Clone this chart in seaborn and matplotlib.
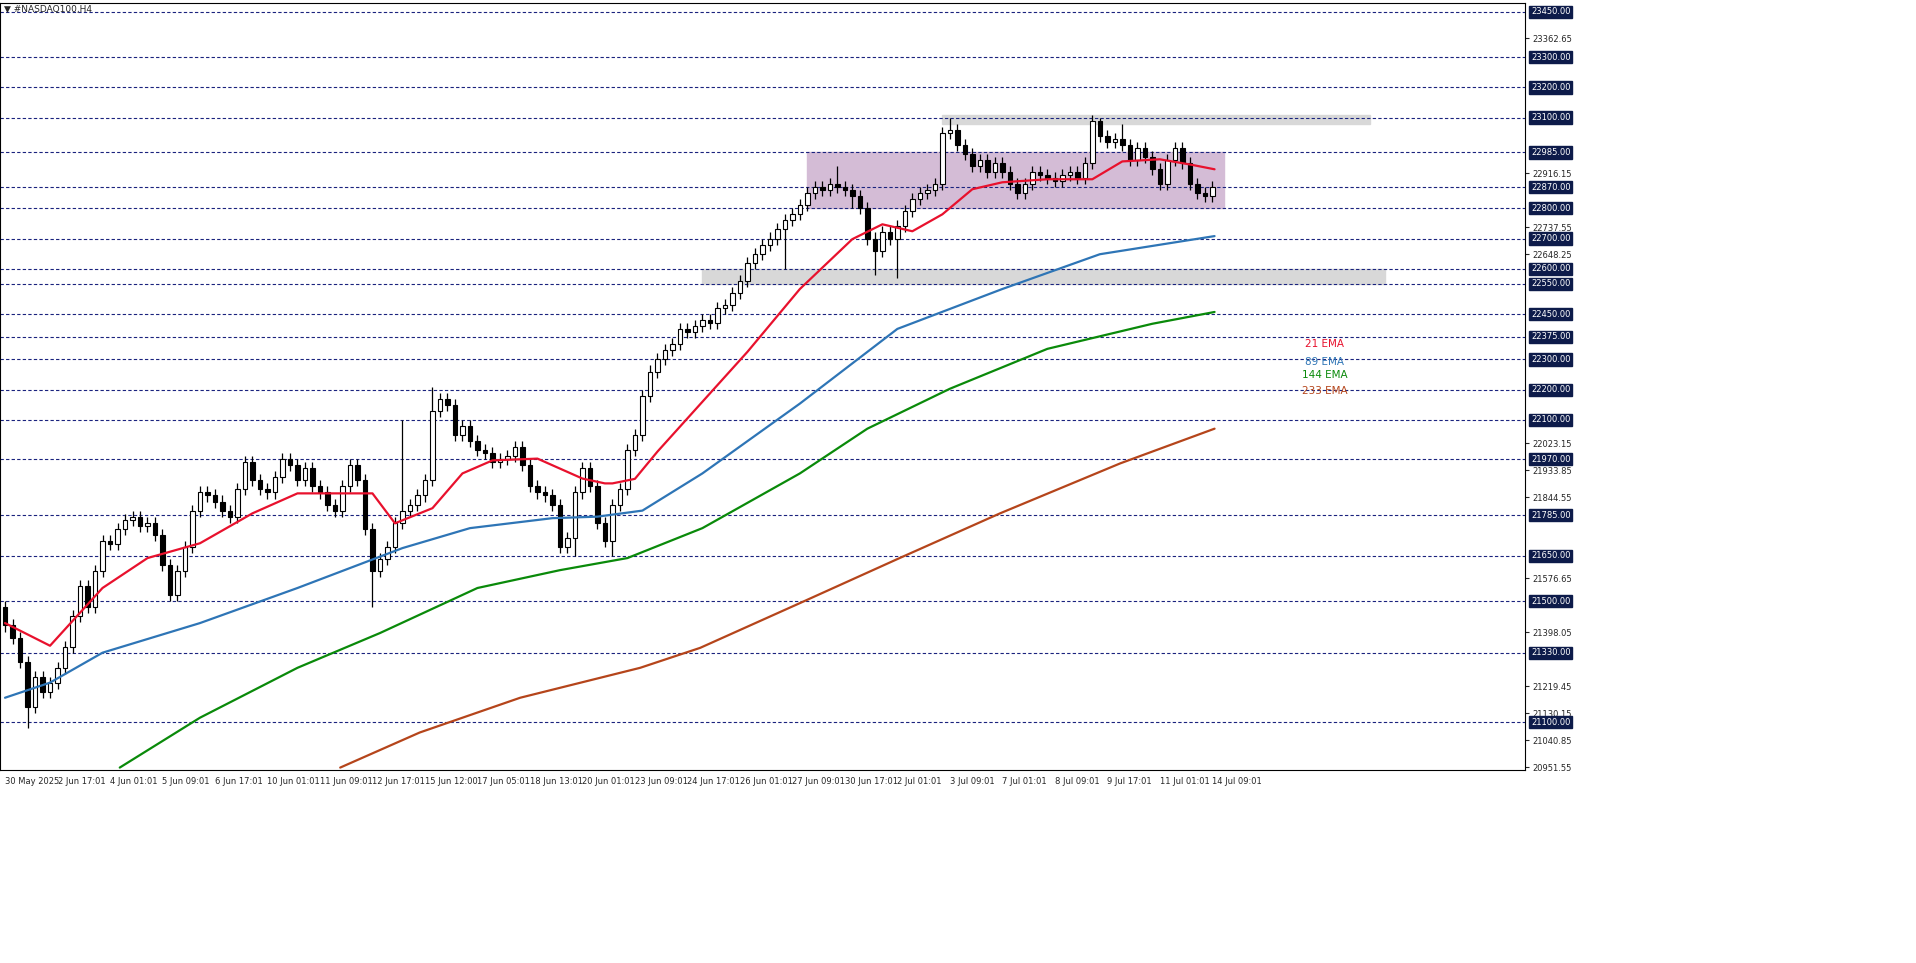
import numpy as np
import pandas as pd
import matplotlib
matplotlib.use("Agg")
import matplotlib.pyplot as plt
import seaborn as sns

# ----------------------------
# Data (H4 closes)
# ----------------------------
closes = [
    21420, 21380, 21300, 21150, 21250, 21200, 21230,
    21280, 21350, 21450, 21550, 21480, 21600, 21700,
    21690, 21740, 21770, 21780, 21750, 21760, 21720,
    21620, 21520, 21600, 21680, 21800, 21860, 21850,
    21830, 21800, 21780, 21870, 21960, 21900, 21870,
    21860, 21910, 21970, 21950, 21900, 21940, 21880,
    21860, 21820, 21800, 21880, 21950, 21900, 21740,
    21600, 21640, 21680, 21760, 21800, 21820, 21850,
    21900, 22130, 22170, 22150, 22050, 22080, 22030,
    22000, 21990, 21960, 21970, 21980, 22010, 21950,
    21880, 21860, 21850, 21820, 21680, 21710, 21860,
    21940, 21880, 21760, 21700, 21820, 21870, 22000,
    22050, 22180, 22260, 22300, 22330, 22350, 22400,
    22390, 22410, 22430, 22420, 22470, 22480, 22520,
    22560, 22620, 22650, 22680, 22700, 22730, 22760,
    22780, 22810, 22850, 22870, 22860, 22880, 22870,
    22860, 22840, 22800, 22700, 22660, 22720, 22700,
    22740, 22790, 22830, 22850, 22860, 22880, 23050,
    23060, 23010, 22980, 22940, 22960, 22920, 22950,
    22920, 22880, 22850, 22880, 22920, 22910, 22900,
    22890, 22910, 22920, 22900, 22950, 23090, 23040,
    23020, 23030, 23010, 22960, 23000, 22970, 22930,
    22880, 22960, 23000, 22950, 22880, 22850, 22840,
    22870,
]
first_open = 21480
long_lows = {3: 21080, 23: 21500, 49: 21480, 76: 21650, 81: 21650,
             104: 22600, 116: 22580, 119: 22570, 113: 22800}
long_highs = {53: 22100, 57: 22210, 111: 22940, 126: 23100, 146: 23100, 149: 23080}

date_labels = ["30 May 2025", "2 Jun 17:01", "4 Jun 01:01", "5 Jun 09:01", "6 Jun 17:01",
               "10 Jun 01:01", "11 Jun 09:01", "12 Jun 17:01", "15 Jun 12:00", "17 Jun 05:01",
               "18 Jun 13:01", "20 Jun 01:01", "23 Jun 09:01", "24 Jun 17:01", "26 Jun 01:01",
               "27 Jun 09:01", "30 Jun 17:01", "2 Jul 01:01", "3 Jul 09:01", "7 Jul 01:01",
               "8 Jul 09:01", "9 Jul 17:01", "11 Jul 01:01", "14 Jul 09:01"]

ema21_x = [0, 6, 13, 19, 26, 33, 39, 45, 49, 52, 57, 61, 65, 71, 77, 80, 81, 84, 87, 93, 99, 106, 113, 117, 121, 125, 129, 133, 139, 145, 149, 154, 158, 161.3]
ema21_y = [21428, 21353, 21544, 21643, 21692, 21791, 21857, 21857, 21857, 21758, 21808, 21923, 21966, 21972, 21906, 21890, 21890, 21905, 21995, 22160, 22325, 22533, 22698, 22747, 22724, 22780, 22863, 22886, 22896, 22896, 22955, 22962, 22945, 22929]
ema89_x = [0, 6, 13, 26, 39, 53, 62, 73, 79, 85, 93, 106, 119, 133, 146, 161.3]
ema89_y = [21181, 21231, 21330, 21428, 21544, 21676, 21742, 21775, 21780, 21800, 21923, 22154, 22401, 22533, 22648, 22708]
ema144_x = [15.3, 26, 39, 50, 63, 74, 83, 93, 106, 115, 126, 139, 153, 161.3]
ema144_y = [20950, 21115, 21280, 21395, 21544, 21603, 21643, 21742, 21923, 22071, 22203, 22335, 22418, 22457]
ema233_x = [44.7, 55.3, 68.7, 84.7, 92.7, 106, 119.3, 132.7, 148.7, 161.3]
ema233_y = [20950, 21066, 21181, 21280, 21346, 21494, 21643, 21791, 21956, 22071]

levels = [23450, 23300, 23200, 23100, 22985, 22870, 22800, 22700, 22600, 22550, 22450,
          22375, 22300, 22200, 22100, 21970, 21785, 21650, 21500, 21330, 21100]

# ----------------------------
# Figure
# ----------------------------
sns.set_style("white")
fig = plt.figure(figsize=(19.16, 9.63), dpi=100)
ax = fig.add_axes([0.0, 1 - 770 / 963, 1525 / 1916, 767 / 963])
ax.set_xlim(-0.67, 202.7)
ax.set_ylim(20942, 23479)

# zones
ax.add_patch(plt.Rectangle((107, 22800), 55.5, 185, color="#d4bcd6", zorder=0))
ax.add_patch(plt.Rectangle((125, 23080), 57, 30, color="#d8d8d8", zorder=0))
ax.add_patch(plt.Rectangle((93, 22550), 91, 50, color="#d8d8d8", zorder=0))

for lv in levels:
    ax.axhline(lv, color="#1a237e", lw=0.8, ls=(0, (3, 2)), zorder=1)

# candles
opens = [first_open] + closes[:-1]
for i, (o, c) in enumerate(zip(opens, closes)):
    hi = long_highs.get(i, max(o, c) + 20)
    lo = long_lows.get(i, min(o, c) - 20)
    ax.vlines(i, lo, hi, color="black", lw=0.9, zorder=3)
    fc = "white" if c >= o else "black"
    ax.bar(i, max(abs(c - o), 3), bottom=min(o, c), width=0.6, color=fc,
           edgecolor="black", linewidth=0.8, zorder=4)

# EMAs
for xs, ys, col in [(ema21_x, ema21_y, "#e8112d"), (ema89_x, ema89_y, "#2e75b6"),
                    (ema144_x, ema144_y, "#0a8a0a"), (ema233_x, ema233_y, "#b5451b")]:
    df = pd.DataFrame({"x": xs, "y": ys})
    sns.lineplot(data=df, x="x", y="y", ax=ax, color=col, lw=1.6, zorder=5)
ax.set_xlabel("")
ax.set_ylabel("")

for lbl, y, col in [("21 EMA", 22350, "#e8112d"), ("89 EMA", 22293, "#2e75b6"),
                    ("144 EMA", 22247, "#0a8a0a"), ("233 EMA", 22197, "#b5451b")]:
    ax.text(176, y, lbl, color=col, fontsize=7.5, ha="center", va="center")

# axes styling
ax.set_xticks(np.arange(len(date_labels)) * 7)
ax.set_xticklabels(date_labels, fontsize=6, ha="left")
ax.tick_params(axis="x", length=3, pad=2)
ax.yaxis.tick_right()
yt = np.linspace(20951.55, 23362.65, 28)
yt = [v for v in yt if min(abs(v - lv) for lv in levels) > 30]
ax.set_yticks(yt)
ax.set_yticklabels([f"{v:.2f}" for v in yt], fontsize=6)
ax.tick_params(axis="y", length=3, pad=2)
for s in ax.spines.values():
    s.set_color("black")
    s.set_linewidth(0.8)

for lv in levels:
    ax.text(1.004, lv, f"{lv:.2f}", transform=ax.get_yaxis_transform(), fontsize=6,
            color="white", va="center", ha="left",
            bbox=dict(boxstyle="square,pad=0.2", fc="#0d1b4a", ec="#0d1b4a"), zorder=10)

fig.text(0.002, 0.995, "\u25bc #NASDAQ100,H4", fontsize=6.5, va="top", ha="left")
fig.savefig("out.png", dpi=100)
